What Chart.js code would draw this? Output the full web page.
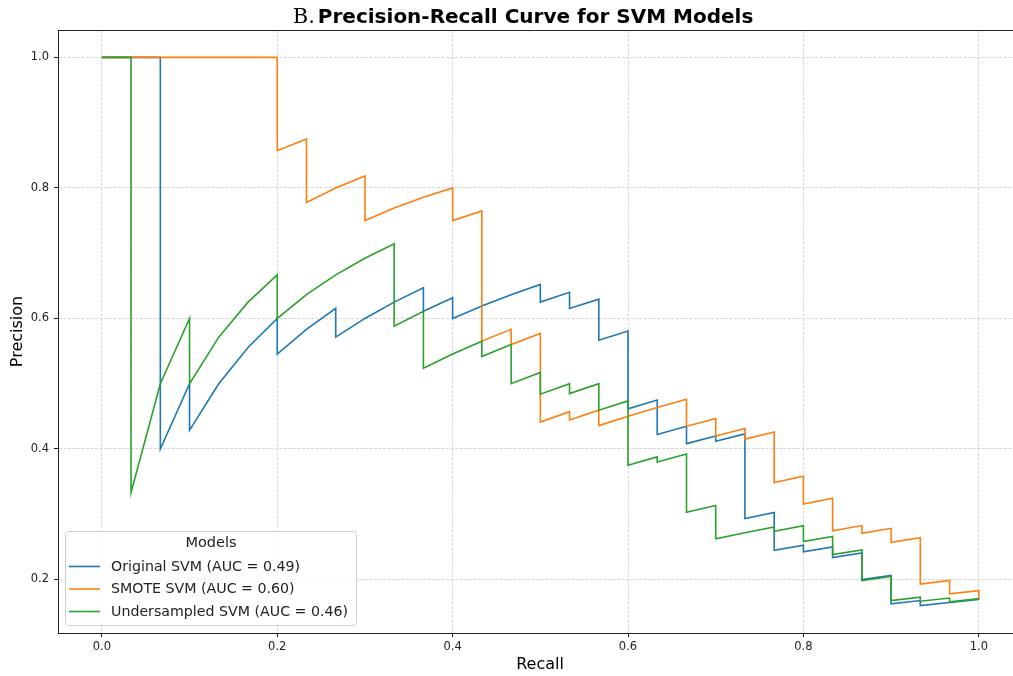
<!DOCTYPE html>
<html>
<head>
<meta charset="utf-8">
<title>Precision-Recall Curve for SVM Models</title>
<script src="https://cdn.jsdelivr.net/npm/chart.js@4/dist/chart.umd.min.js"></script>
<style>
    html, body { margin: 0; padding: 0; background: #fff; }
    #prChart { display: block; }
</style>
</head>
<body>
<canvas id="prChart" width="1013" height="676"></canvas>
<script>
// Original SVM (AUC = 0.49)
const recallOriginal = [0, 0.0667, 0.0667, 0.1, 0.1, 0.1333, 0.1667, 0.2, 0.2, 0.2333, 0.2667, 0.2667, 0.3, 0.3333, 0.3667, 0.3667,
    0.4, 0.4, 0.4333, 0.4667, 0.5, 0.5, 0.5333, 0.5333, 0.5667, 0.5667, 0.6, 0.6, 0.6333, 0.6333, 0.6667, 0.6667, 0.7, 0.7,
    0.7333, 0.7333, 0.7667, 0.7667, 0.8, 0.8, 0.8333, 0.8333, 0.8667, 0.8667, 0.9, 0.9, 0.9333, 0.9333, 0.9667, 1.0];
const precisionOriginal = [1, 1, 0.4, 0.5, 0.4286, 0.5, 0.5556, 0.6, 0.5455, 0.5833, 0.6154, 0.5714, 0.6, 0.625, 0.6471, 0.6111,
    0.6316, 0.6, 0.619, 0.6364, 0.6522, 0.625, 0.64, 0.6154, 0.6296, 0.5667, 0.5806, 0.4615, 0.475, 0.4222, 0.4348, 0.4082, 0.42, 0.4118,
    0.4231, 0.2933, 0.3026, 0.2447, 0.2526, 0.2424, 0.25, 0.2336, 0.2407, 0.2, 0.2061, 0.1627, 0.1677, 0.16, 0.1648, 0.1695];

// SMOTE SVM (AUC = 0.60)
const recallSmote = [0, 0.2, 0.2, 0.2333, 0.2333, 0.2667, 0.3, 0.3, 0.3333, 0.3667, 0.4, 0.4, 0.4333, 0.4333, 0.4667, 0.4667,
    0.5, 0.5, 0.5333, 0.5333, 0.5667, 0.5667, 0.6, 0.6333, 0.6667, 0.6667, 0.7, 0.7, 0.7333, 0.7333, 0.7667, 0.7667,
    0.8, 0.8, 0.8333, 0.8333, 0.8667, 0.8667, 0.9, 0.9, 0.9333, 0.9333, 0.9667, 0.9667, 1.0, 1.0];
const precisionSmote = [1, 1, 0.8571, 0.875, 0.7778, 0.8, 0.8182, 0.75, 0.7692, 0.7857, 0.8, 0.75, 0.7647, 0.5652, 0.5833, 0.56,
    0.5769, 0.4412, 0.4571, 0.4444, 0.4595, 0.4359, 0.45, 0.4634, 0.4762, 0.4348, 0.4468, 0.42, 0.4314, 0.4151, 0.4259, 0.3485,
    0.3582, 0.3158, 0.3247, 0.2747, 0.2826, 0.2708, 0.2784, 0.2571, 0.2642, 0.1931, 0.1986, 0.1779, 0.1829, 0.1695];

// Undersampled SVM (AUC = 0.46)
const recallUnder = [0, 0.0333, 0.0333, 0.0667, 0.1, 0.1, 0.1333, 0.1667, 0.2, 0.2, 0.2333, 0.2667, 0.3, 0.3333, 0.3333,
    0.3667, 0.3667, 0.4, 0.4333, 0.4333, 0.4667, 0.4667, 0.5, 0.5, 0.5333, 0.5333, 0.5667, 0.5667, 0.6, 0.6, 0.6333, 0.6333,
    0.6667, 0.6667, 0.7, 0.7, 0.7333, 0.7667, 0.7667, 0.8, 0.8, 0.8333, 0.8333, 0.8667, 0.8667, 0.9, 0.9, 0.9333, 0.9333,
    0.9667, 0.9667, 1.0, 1.0];
const precisionUnder = [1, 1, 0.3333, 0.5, 0.6, 0.5, 0.5714, 0.625, 0.6667, 0.6, 0.6364, 0.6667, 0.6923, 0.7143, 0.5882,
    0.6111, 0.5238, 0.5455, 0.5652, 0.5417, 0.56, 0.5, 0.5172, 0.4839, 0.5, 0.4848, 0.5, 0.4595, 0.4737, 0.375, 0.3878, 0.38,
    0.3922, 0.303, 0.3134, 0.2625, 0.2716, 0.2805, 0.2738, 0.2824, 0.2581, 0.266, 0.2381, 0.2453, 0.1985, 0.2045, 0.1677, 0.1728, 0.1667,
    0.1716, 0.1657, 0.1705, 0.1695];

const seriesLabels = ['Original SVM (AUC = 0.49)', 'SMOTE SVM (AUC = 0.60)', 'Undersampled SVM (AUC = 0.46)'];
const seriesColors = ['#1f77b4', '#ff7f0e', '#2ca02c'];
const legendTitle = 'Models';
const titlePrefix = 'B.';
const titleText = 'Precision-Recall Curve for SVM Models';
const xAxisLabel = 'Recall';

const xTicks = [0, 0.2, 0.4, 0.6, 0.8, 1.0];
const xTickLabels = ['0.0', '0.2', '0.4', '0.6', '0.8', '1.0'];
const yTicks = [0.2, 0.4, 0.6, 0.8, 1.0];
const yTickLabels = ['0.2', '0.4', '0.6', '0.8', '1.0'];

const SANS = "'DejaVu Sans', sans-serif";

function toPoints(xs, ys) {
    return xs.map((x, i) => ({ x: x, y: ys[i] }));
}

// Title with a serif "B." in front of the bold sans text, plus the x label
// (the reference's axes run past the right edge, so "Recall" sits a bit right of the canvas middle)
const titlePlugin = {
    id: 'mixedTitle',
    afterDraw(chart) {
        const ctx = chart.ctx;
        ctx.save();
        ctx.textBaseline = 'alphabetic';
        ctx.fillStyle = '#000';
        ctx.font = "21px 'DejaVu Serif', serif";
        const wB = ctx.measureText(titlePrefix).width;
        ctx.font = 'bold 20px ' + SANS;
        const wT = ctx.measureText(titleText).width;
        const gap = 3;
        const start = 523 - (wB + gap + wT) / 2;
        ctx.font = "21px 'DejaVu Serif', serif";
        ctx.fillText(titlePrefix, start, 23);
        ctx.font = 'bold 20px ' + SANS;
        ctx.fillText(titleText, start + wB + gap, 23);

        ctx.font = '16px ' + SANS;
        ctx.textAlign = 'center';
        ctx.textBaseline = 'middle';
        ctx.fillText(xAxisLabel, 540, 665);
        ctx.restore();
    }
};

// Top spine (right one is cut off in the reference)
const framePlugin = {
    id: 'frame',
    afterDraw(chart) {
        const a = chart.chartArea;
        const ctx = chart.ctx;
        ctx.save();
        ctx.strokeStyle = '#222';
        ctx.lineWidth = 1;
        ctx.beginPath();
        ctx.moveTo(a.left, a.top + 0.5);
        ctx.lineTo(a.right, a.top + 0.5);
        ctx.stroke();
        ctx.restore();
    }
};

// Legend box inside the plot, lower left
const legendPlugin = {
    id: 'innerLegend',
    afterDatasetsDraw(chart) {
        const ctx = chart.ctx;
        ctx.save();
        ctx.beginPath();
        ctx.roundRect(65.5, 531.5, 291, 94, 3);
        ctx.fillStyle = 'rgba(255,255,255,0.85)';
        ctx.fill();
        ctx.strokeStyle = '#d0d0d0';
        ctx.lineWidth = 1;
        ctx.stroke();

        ctx.fillStyle = '#222';
        ctx.textBaseline = 'middle';
        ctx.textAlign = 'center';
        ctx.font = '14.5px ' + SANS;
        ctx.fillText(legendTitle, 211, 543.5);

        ctx.textAlign = 'left';
        ctx.font = '14.2px ' + SANS;
        const rows = [566.5, 589, 611.5];
        chart.data.datasets.forEach((ds, i) => {
            ctx.strokeStyle = ds.borderColor;
            ctx.lineWidth = 1.6;
            ctx.beginPath();
            ctx.moveTo(69, rows[i]);
            ctx.lineTo(100, rows[i]);
            ctx.stroke();
            ctx.fillStyle = '#222';
            ctx.fillText(ds.label, 111, rows[i] + 0.5);
        });
        ctx.restore();
    }
};

const allSeries = [
    toPoints(recallOriginal, precisionOriginal),
    toPoints(recallSmote, precisionSmote),
    toPoints(recallUnder, precisionUnder)
];

let chart = new Chart(document.getElementById('prChart'), {
    type: 'scatter',
    data: {
        datasets: allSeries.map((pts, i) => ({
            label: seriesLabels[i],
            data: pts,
            showLine: true,
            borderColor: seriesColors[i],
            backgroundColor: seriesColors[i],
            borderWidth: 1.6,
            pointRadius: 0,
            pointHoverRadius: 0,
            tension: 0,
            fill: false,
            order: 3 - i  // later series on top, like matplotlib
        }))
    },
    options: {
        responsive: false,
        animation: false,
        devicePixelRatio: 1,
        layout: { padding: { top: 30, right: 0, left: 0, bottom: 0 } },
        plugins: {
            legend: { display: false },
            tooltip: { enabled: false },
            title: { display: false }
        },
        scales: {
            x: {
                type: 'linear',
                min: -0.05,
                max: 1.039,
                afterFit: (scale) => { scale.height = 43; },
                afterBuildTicks: (scale) => { scale.ticks = xTicks.map(v => ({ value: v })); },
                ticks: {
                    callback: (v, i) => xTickLabels[i],
                    font: { family: SANS, size: 11.5 },
                    color: '#222',
                    padding: 3,
                    maxRotation: 0
                },
                grid: {
                    color: '#cccccc',
                    lineWidth: 0.8,
                    tickColor: '#222',
                    tickLength: 4,
                    tickWidth: 1
                },
                border: { display: true, color: '#222', width: 1, dash: [3, 1.5] },
                title: { display: false }
            },
            y: {
                type: 'linear',
                min: 0.118,
                max: 1.042,
                afterFit: (scale) => { scale.width = 58; },
                afterBuildTicks: (scale) => { scale.ticks = yTicks.map(v => ({ value: v })); },
                ticks: {
                    callback: (v, i) => yTickLabels[i],
                    font: { family: SANS, size: 11.5 },
                    color: '#222',
                    padding: 5
                },
                grid: {
                    color: '#cccccc',
                    lineWidth: 0.8,
                    tickColor: '#222',
                    tickLength: 4,
                    tickWidth: 1
                },
                border: { display: true, color: '#222', width: 1, dash: [3, 1.5] },
                title: {
                    display: true,
                    text: 'Precision',
                    font: { family: SANS, size: 16 },
                    color: '#000',
                    padding: { top: 8, bottom: 0 }
                }
            }
        }
    },
    plugins: [framePlugin, legendPlugin, titlePlugin]
});
</script>
</body>
</html>
